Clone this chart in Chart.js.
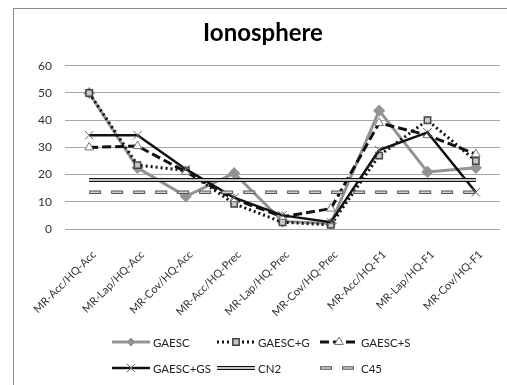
<!DOCTYPE html>
<html>
<head>
<meta charset="utf-8">
<script src="https://cdn.jsdelivr.net/npm/chart.js@4"></script>
<style>
  body { margin: 0; background: #fff; }
  #wrap { position: relative; width: 507px; height: 385px; overflow: hidden; }
  #frame { position: absolute; left: 13px; top: 8px; width: 600px; height: 500px; border: 1px solid #8c8c8c; }
  #chart { position: absolute; left: 0; top: 0; }
</style>
</head>
<body>
<div id="wrap">
  <div id="frame"></div>
  <canvas id="chart" width="507" height="385"></canvas>
</div>
<script>
// data
const categories = ['MR-Acc/HQ-Acc', 'MR-Lap/HQ-Acc', 'MR-Cov/HQ-Acc', 'MR-Acc/HQ-Prec', 'MR-Lap/HQ-Prec',
    'MR-Cov/HQ-Prec', 'MR-Acc/HQ-F1', 'MR-Lap/HQ-F1', 'MR-Cov/HQ-F1'];
const gaesc   = [50, 22.5, 12, 20.5, 2.8, 2, 43.5, 21, 22.5];
const gaescG  = [50, 23.5, 21.5, 9.3, 2.5, 1.5, 27, 40, 25];
const gaescS  = [30, 30.5, 21, 11, 4.5, 7.5, 39, 34.5, 27.5];
const gaescGS = [34.5, 34.5, 22, 11.5, 5, 2.5, 29, 35.5, 13.5];
const cn2     = [18, 18, 18, 18, 18, 18, 18, 18, 18];
const c45     = [13.5, 13.5, 13.5, 13.5, 13.5, 13.5, 13.5, 13.5, 13.5];
const yTicks  = [0, 10, 20, 30, 40, 50, 60];

const FONT = 'Lato, "Open Sans", sans-serif';

// legend slots (Excel style grid under the plot)
const legendSlots = [[112, 342], [217, 342], [320, 342], [112, 368], [217, 368], [320, 368]];

const datasets = [
    { label: 'GAESC', data: gaesc, borderColor: '#939393', borderWidth: 3,
      pointStyle: 'rectRot', pointRadius: 4, pointBackgroundColor: '#939393', pointBorderColor: '#939393',
      order: 6, slot: 0 },
    { label: 'GAESC+G', data: gaescG, borderColor: '#111', borderWidth: 3, borderDash: [2, 3],
      pointStyle: 'rect', pointRadius: 4.5, pointBackgroundColor: '#c8c8c8', pointBorderColor: '#444', pointBorderWidth: 1.5,
      order: 5, slot: 1 },
    { label: 'GAESC+S', data: gaescS, borderColor: '#111', borderWidth: 3, borderDash: [9, 4],
      pointStyle: 'triangle', pointRadius: 5, pointBackgroundColor: '#fff', pointBorderColor: '#777', pointBorderWidth: 1,
      order: 4, slot: 2 },
    { label: 'GAESC+GS', data: gaescGS, borderColor: '#111', borderWidth: 2.5,
      pointStyle: 'crossRot', pointRadius: 6, pointBorderColor: '#666', pointBorderWidth: 1,
      order: 3, slot: 3 },
    { label: 'CN2', data: cn2, borderColor: '#111', borderWidth: 4, pointRadius: 0,
      order: 2, slot: 4, inner: { color: '#fff', width: 1.6 } },
    { label: 'CN2 inner', data: cn2, borderColor: '#fff', borderWidth: 1.6, pointRadius: 0, order: 1.5 },
    { label: 'C45', data: c45, borderColor: '#555', borderWidth: 3.5, borderDash: [12, 10], pointRadius: 0,
      order: 1, slot: 5, inner: { color: '#d0d0d0', width: 1.5, dash: [10, 12], offset: -1 } },
    { label: 'C45 inner', data: c45, borderColor: '#d0d0d0', borderWidth: 1.5, borderDash: [10, 12], borderDashOffset: -1,
      pointRadius: 0, order: 0.5 }
];
datasets.forEach(ds => { ds.fill = false; ds.tension = 0; ds.pointHoverRadius = ds.pointRadius; });

// Helper: draw the legend grid ourselves (line sample + marker + label)
const excelLegend = {
    id: 'excelLegend',
    afterDraw(chart) {
        const ctx = chart.ctx;
        chart.data.datasets.forEach(ds => {
            if (ds.slot === undefined) return;
            const [sx, sy] = legendSlots[ds.slot];
            const w = 38;
            ctx.save();
            ctx.lineCap = 'butt';
            ctx.strokeStyle = ds.borderColor;
            ctx.lineWidth = ds.borderWidth;
            ctx.setLineDash(ds.borderDash || []);
            ctx.beginPath();
            ctx.moveTo(sx, sy);
            ctx.lineTo(sx + w, sy);
            ctx.stroke();
            if (ds.inner) {
                ctx.strokeStyle = ds.inner.color;
                ctx.lineWidth = ds.inner.width;
                ctx.setLineDash(ds.inner.dash || []);
                ctx.lineDashOffset = ds.inner.offset || 0;
                ctx.beginPath();
                ctx.moveTo(sx, sy);
                ctx.lineTo(sx + w, sy);
                ctx.stroke();
            }
            ctx.setLineDash([]);
            if (ds.pointRadius > 0) {
                ctx.fillStyle = ds.pointBackgroundColor || 'transparent';
                ctx.strokeStyle = ds.pointBorderColor;
                ctx.lineWidth = ds.pointBorderWidth || 1;
                Chart.helpers.drawPoint(ctx, { pointStyle: ds.pointStyle, radius: ds.pointRadius, rotation: 0, borderWidth: ctx.lineWidth }, sx + w / 2, sy);
            }
            ctx.fillStyle = '#222';
            ctx.font = '11.5px ' + FONT;
            ctx.textBaseline = 'middle';
            ctx.fillText(ds.label, sx + w + 3, sy + 1);
            ctx.restore();
        });
    }
};

new Chart(document.getElementById('chart').getContext('2d'), {
    type: 'line',
    data: { labels: categories, datasets: datasets },
    options: {
        responsive: false,
        animation: false,
        layout: { padding: { left: 24, right: 5, top: 0, bottom: 0 } },
        plugins: {
            legend: { display: false },
            tooltip: { enabled: false },
            title: {
                display: true,
                text: 'Ionosphere',
                color: '#000',
                font: { family: FONT, size: 24, weight: 'bold' },
                padding: { top: 19, bottom: 18 }
            }
        },
        scales: {
            x: {
                offset: true,
                grid: { display: false, drawTicks: false },
                border: { display: false },
                ticks: { color: '#333', font: { family: FONT, size: 11 }, minRotation: 45, maxRotation: 45,
                         padding: 19, labelOffset: 5 },
                afterFit(scale) { scale.height = 156; }
            },
            y: {
                min: 0, max: 60,
                afterBuildTicks(scale) { scale.ticks = yTicks.map(v => ({ value: v })); },
                grid: { color: '#a6a6a6', lineWidth: 1, drawTicks: false },
                border: { display: false },
                ticks: { color: '#333', font: { family: FONT, size: 12 }, padding: 13 },
                afterFit(scale) { scale.width = 41; }
            }
        }
    },
    plugins: [excelLegend]
});
</script>
</body>
</html>
